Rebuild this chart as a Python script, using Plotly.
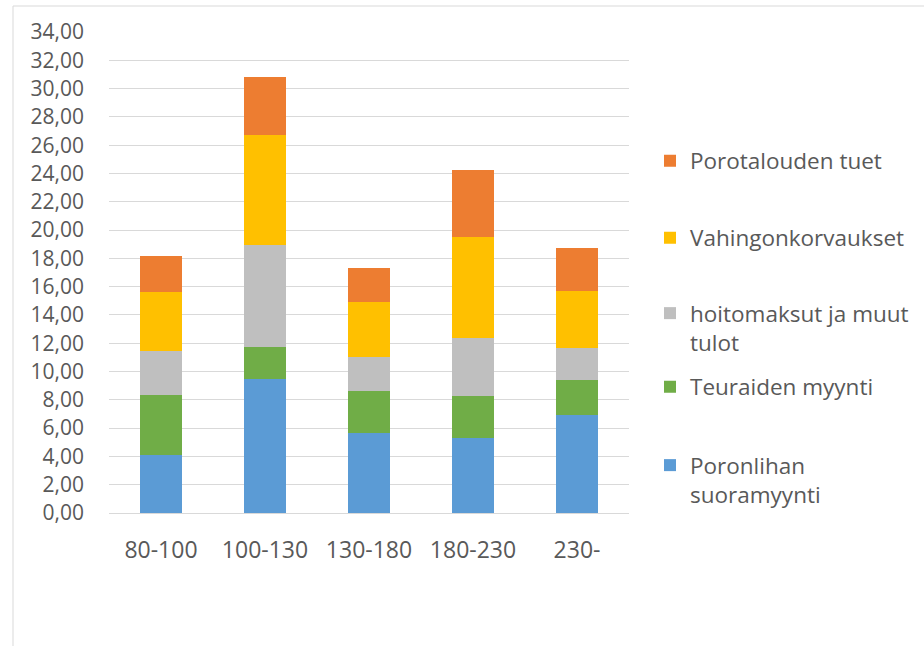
import plotly.graph_objects as go

categories = ["80-100", "100-130", "130-180", "180-230", "230-"]
poronlihan = [4.12, 9.50, 5.66, 5.31, 6.93]
teuraiden = [4.25, 2.22, 2.99, 2.94, 2.50]
hoitomaksut = [3.06, 7.24, 2.36, 4.13, 2.24]
vahingon = [4.19, 7.75, 3.89, 7.15, 4.01]
tuet = [2.53, 4.11, 2.43, 4.69, 3.04]

series = [
    ("Poronlihan<br>suoramyynti", poronlihan, "#5B9BD5", "legend5"),
    ("Teuraiden myynti", teuraiden, "#70AD47", "legend4"),
    ("hoitomaksut ja muut<br>tulot", hoitomaksut, "#BFBFBF", "legend3"),
    ("Vahingonkorvaukset", vahingon, "#FFC000", "legend2"),
    ("Porotalouden tuet", tuet, "#ED7D31", "legend"),
]

FONT = "Open Sans"
TXT = "#595959"
XTICK_SIZE = 23
YTICK_SIZE = 21
LEG_SIZE = 22.5

fig = go.Figure()
for name, vals, col, lg in series:
    fig.add_trace(go.Bar(x=categories, y=vals, name=name, marker_color=col,
                         marker_line_width=0, legend=lg, showlegend=True))

W, H = 924, 646
L, R, T, B = 109, 295, 32, 133
pw, ph = W - L - R, H - T - B

def py(ypx):
    return (H - B - ypx) / ph

def px(xpx):
    return (xpx - L) / pw

leg_common = dict(font=dict(family=FONT, size=LEG_SIZE, color=TXT), xanchor="left",
                  yanchor="middle", x=px(650), bgcolor="rgba(0,0,0,0)",
                  valign="top", itemclick=False)

fig.update_layout(
    width=W, height=H,
    margin=dict(l=L, r=R, t=T, b=B, autoexpand=False),
    paper_bgcolor="white", plot_bgcolor="white",
    barmode="stack", bargap=0.6,
    separators=", ",
    showlegend=True,
    font=dict(family=FONT, size=XTICK_SIZE, color=TXT),
    legend=dict(y=py(161), **leg_common),
    legend2=dict(y=py(238), **leg_common),
    legend3=dict(y=py(328), **leg_common),
    legend4=dict(y=py(387), **leg_common),
    legend5=dict(y=py(480), **leg_common),
    xaxis=dict(showgrid=False, showline=True, linecolor="#d9d9d9", linewidth=1,
               ticks="", tickfont=dict(family=FONT, size=XTICK_SIZE, color=TXT),
               ticklabelstandoff=16),
    yaxis=dict(range=[0, 34], dtick=2, tickformat=".2f", showgrid=True,
               gridcolor="#d9d9d9", gridwidth=1, zeroline=False, showline=False,
               tickfont=dict(family=FONT, size=YTICK_SIZE, color=TXT), ticklabelstandoff=24),
    shapes=[dict(type="rect", xref="paper", yref="paper",
                 x0=px(13), x1=px(960), y0=py(700), y1=py(6),
                 line=dict(color="#d9d9d9", width=1), fillcolor="rgba(0,0,0,0)",
                 layer="below")],
)

fig.write_html("out.html", config={"displayModeBar": False},
               post_script="document.body.style.margin='0px';")
